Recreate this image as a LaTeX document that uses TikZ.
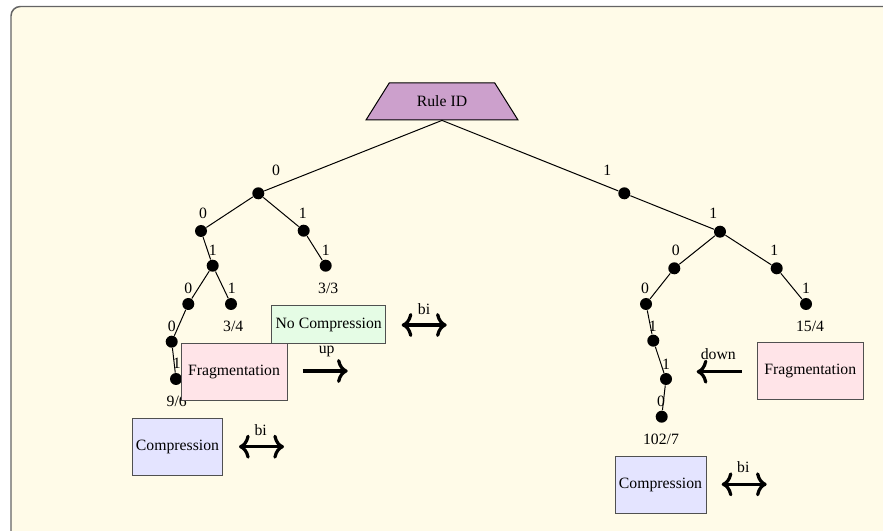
\documentclass[tikz,border=0pt]{standalone}
\usepackage{fontspec}
\setmainfont{Liberation Serif}
\usetikzlibrary{shapes.geometric,arrows.meta}

\definecolor{paper}{RGB}{255,251,232}
\definecolor{ruleviolet}{RGB}{204,160,204}
\definecolor{nocompgreen}{RGB}{229,252,229}
\definecolor{fragpink}{RGB}{255,228,232}
\definecolor{complav}{RGB}{228,228,255}
\definecolor{boxgray}{RGB}{80,80,80}

\tikzset{every picture/.style={line width=0.75pt}}
\tikzset{
	dot/.style={circle,fill=black,inner sep=0pt,minimum size=9pt},
	bit/.style={inner sep=0pt},
	leaf/.style={inner sep=0pt},
	rulebox/.style={trapezium,trapezium angle=45,trapezium stretches=true,draw=black,
		fill=ruleviolet,minimum width=114pt,minimum height=27.75pt,inner sep=0pt},
	actbox/.style={rectangle,draw=boxgray,inner xsep=2pt,minimum height=42.75pt},
	cmtip/.tip={Computer Modern Rightarrow[length=8pt,width=18pt]},
	bigarrow/.style={line width=2.4pt,-cmtip},
	bigarrow2/.style={line width=2.4pt,cmtip-cmtip}
}

\begin{document}
\begin{tikzpicture}[x=0.75pt,y=0.75pt,yscale=-1,xscale=1,font=\rmfamily\fontsize{11.8}{14}\selectfont]
	\useasboundingbox (0,0) rectangle (883,531);
	\clip (0,0) rectangle (883,531);

	%Shape: Rounded Rectangle (frame)
	\draw [draw={rgb, 255:red, 100; green, 100; blue, 100 }, line width=1.1pt, fill=paper, rounded corners=7pt] (11,6.5) rectangle (900,550) ;

	%Shape: Trapezoid (root)
	\node [rulebox] (rule) at (442,101.4) {Rule ID};

	%Tree nodes, left side
	\node [dot] (L) at (258.3,193.3) {};
	\node [dot] (L0) at (201,231) {};
	\node [dot] (L1) at (303.7,230.7) {};
	\node [dot] (L01) at (212.7,265.7) {};
	\node [dot] (L11) at (325.7,265.7) {};
	\node [dot] (L010) at (188.3,304) {};
	\node [dot] (L011) at (231,304) {};
	\node [dot] (L0100) at (171.7,341.7) {};
	\node [dot] (L01001) at (176,379) {};

	%Tree nodes, right side
	\node [dot] (R) at (624.3,193.3) {};
	\node [dot] (R1) at (720,231.7) {};
	\node [dot] (R10) at (674.3,268.3) {};
	\node [dot] (R11) at (776.7,268.3) {};
	\node [dot] (R100) at (646,304) {};
	\node [dot] (R111) at (806,304) {};
	\node [dot] (R1001) at (653.3,340.7) {};
	\node [dot] (R10011) at (666,379) {};
	\node [dot] (R100110) at (661.7,416.7) {};

	%Straight Lines
	\draw (rule.south) -- (L) ;
	\draw (rule.south) -- (R) ;
	\draw (L) -- (L0) ;
	\draw (L) -- (L1) ;
	\draw (L0) -- (L01) ;
	\draw (L1) -- (L11) ;
	\draw (L01) -- (L010) ;
	\draw (L01) -- (L011) ;
	\draw (L010) -- (L0100) ;
	\draw (L0100) -- (L01001) ;
	\draw (R) -- (R1) ;
	\draw (R1) -- (R10) ;
	\draw (R1) -- (R11) ;
	\draw (R10) -- (R100) ;
	\draw (R11) -- (R111) ;
	\draw (R100) -- (R1001) ;
	\draw (R1001) -- (R10011) ;
	\draw (R10011) -- (R100110) ;

	% Text Node (bits)
	\node [bit] (bL) at (276,170) {0};
	\node [bit] (bL0) at (203,213) {0};
	\node [bit] (bL1) at (302.7,213) {1};
	\node [bit] (bL01) at (212.7,250.7) {1};
	\node [bit] (bL11) at (325.7,250.7) {1};
	\node [bit] (bL010) at (188.3,288.3) {0};
	\node [bit] (bL011) at (231.7,288.3) {1};
	\node [bit] (bL0100) at (171.7,326) {0};
	\node [bit] (bL01001) at (176.7,363.3) {1};
	\node [bit] (bR) at (607.3,170) {1};
	\node [bit] (bR1) at (713.3,213.3) {1};
	\node [bit] (bR10) at (675.7,250) {0};
	\node [bit] (bR11) at (774.3,250.7) {1};
	\node [bit] (bR100) at (645,288.3) {0};
	\node [bit] (bR111) at (806,288.3) {1};
	\node [bit] (bR1001) at (652.7,326) {1};
	\node [bit] (bR10011) at (666,364) {1};
	\node [bit] (bR100110) at (661,401.7) {0};

	% Text Node (leaves)
	\node [leaf] (t33) at (328.3,288.3) {3/3};
	\node [leaf] (t34) at (233.3,326) {3/4};
	\node [leaf] (t96) at (176.7,401.7) {9/6};
	\node [leaf] (t154) at (810,326) {15/4};
	\node [leaf] (t1027) at (661,439.3) {102/7};

	%Shape: Rectangles (actions)
	\node [actbox, fill=nocompgreen, minimum width=85.5pt, minimum height=28.5pt] (nocomp) at (328.7,324.5) {No Compression};
	\node [actbox, fill=fragpink, minimum width=79.5pt] (fragL) at (234,371.7) {Fragmentation};
	\node [actbox, fill=complav, minimum width=67.5pt] (compL) at (177.5,447) {Compression};
	\node [actbox, fill=fragpink, minimum width=79.5pt] (fragR) at (810.3,371) {Fragmentation};
	\node [actbox, fill=complav, minimum width=68.25pt] (compR) at (660.5,485.3) {Compression};

	%Arrows
	\coordinate (upA) at (302.7,371) ;
	\coordinate (upB) at (347.7,371) ;
	\draw [bigarrow] (upA) -- (upB) ;
	\node (upLbl) at (326.7,351.7) {up};

	\coordinate (biNA) at (401.7,325) ;
	\coordinate (biNB) at (446.7,325) ;
	\draw [bigarrow2] (biNA) -- (biNB) ;
	\node (biNLbl) at (424,309) {bi};

	\coordinate (biLA) at (239,446.7) ;
	\coordinate (biLB) at (284,446.7) ;
	\draw [bigarrow2] (biLA) -- (biLB) ;
	\node (biLLbl) at (260.7,430) {bi};

	\coordinate (downA) at (741.7,371.7) ;
	\coordinate (downB) at (696.7,371.7) ;
	\draw [bigarrow] (downA) -- (downB) ;
	\node (downLbl) at (718.3,354) {down};

	\coordinate (biRA) at (721.7,484.3) ;
	\coordinate (biRB) at (766.7,484.3) ;
	\draw [bigarrow2] (biRA) -- (biRB) ;
	\node (biRLbl) at (743.3,467.3) {bi};

\end{tikzpicture}
\end{document}
